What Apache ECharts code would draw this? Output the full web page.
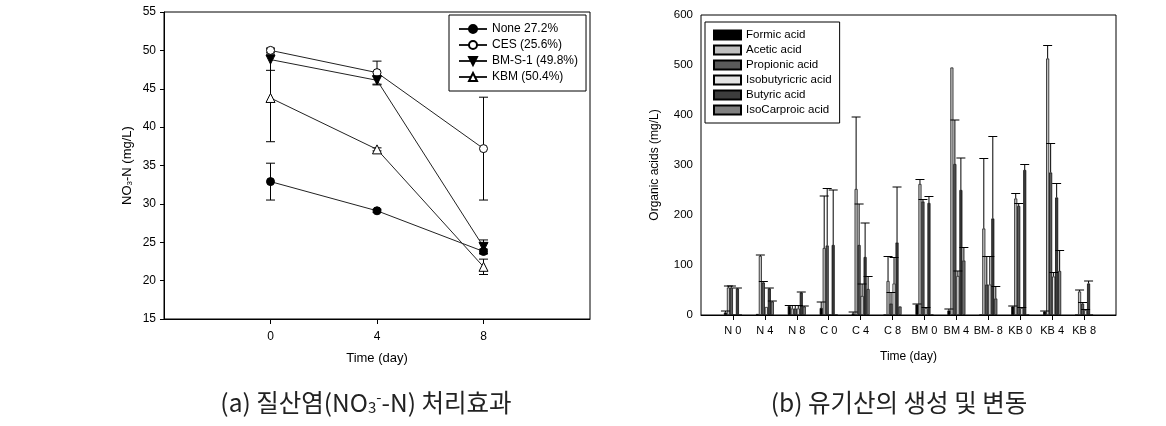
<!DOCTYPE html>
<html><head><meta charset="utf-8">
<script src="https://cdn.jsdelivr.net/npm/echarts@6/dist/echarts.min.js"></script>
<style>html,body{margin:0;padding:0;background:#fff}#c{width:1166px;height:426px}</style>
</head><body><div id="c"></div>
<script>
// ---------- (a) NO3-N data ----------
const days = [0, 4, 8];
const dayTicks = [0, 4, 8];
const namesA = ['None 27.2%', 'CES (25.6%)', 'BM-S-1 (49.8%)', 'KBM (50.4%)'];
const noneVals = [32.9, 29.1, 23.8];
const noneErr  = [2.4, 0.2, 0.3];
const cesVals  = [50.0, 47.1, 37.2];
const cesErr   = [0.3, 1.5, 6.7];
const bmsVals  = [48.8, 46.1, 24.4];
const bmsErr   = [1.4, 0.6, 0.9];
const kbmVals  = [43.8, 37.1, 21.8];
const kbmErr   = [5.7, 0.2, 1.0];

// ---------- (b) organic acids data ----------
const groups = ['N 0', 'N 4', 'N 8', 'C 0', 'C 4', 'C 8', 'BM 0', 'BM 4', 'BM- 8', 'KB 0', 'KB 4', 'KB 8'];
const acidNames = ['Formic acid', 'Acetic acid', 'Propionic acid', 'Isobutyricric acid', 'Butyric acid', 'IsoCarproic acid'];
const formic     = [5, 2, 18, 14, 3, 0, 21, 9, 0, 17, 7, 0];
const formicErr  = [3, 0, 1, 12, 3, 0, 1, 3, 0, 1, 1, 0];
const acetic     = [55, 118, 13, 134, 252, 68, 262, 495, 173, 233, 513, 47];
const aceticErr  = [3, 2, 6, 104, 144, 49, 9, 0, 140, 10, 26, 3];
const propionic  = [55, 65, 13, 139, 140, 23, 227, 302, 61, 218, 285, 23];
const propErr    = [3, 2, 6, 114, 82, 22, 4, 88, 56, 5, 58, 2];
const isobutyric = [0, 16, 13, 0, 38, 63, 14, 78, 61, 14, 77, 10];
const isobutErr  = [0, 0, 6, 0, 24, 52, 1, 10, 56, 1, 8, 1];
const butyric    = [53, 53, 45, 140, 116, 145, 224, 250, 193, 290, 235, 63];
const butErr     = [1, 1, 1, 110, 68, 111, 13, 64, 164, 11, 28, 5];
const isocapr    = [0, 27, 17, 0, 52, 17, 0, 109, 33, 0, 88, 0];
const isocaprErr = [0, 1, 1, 0, 25, 0, 0, 26, 24, 0, 41, 0];

const FONT = 'Arial, "Liberation Sans", sans-serif';
const acidColors = ['#000000', '#c0c0c0', '#5a5a5a', '#e4e4e4', '#3c3c3c', '#808080'];
const acidVals = [formic, acetic, propionic, isobutyric, butyric, isocapr];
const acidErrs = [formicErr, aceticErr, propErr, isobutErr, butErr, isocaprErr];

// category axis with a blank slot at each end (boundaryGap false)
const xCats = [''].concat(groups).concat(['']);
const BAR_W = 3;

const lineDefs = [
  {name: namesA[0], vals: noneVals, err: noneErr, symbol: 'circle', fill: '#000', rot: 0},
  {name: namesA[1], vals: cesVals, err: cesErr, symbol: 'circle', fill: '#fff', rot: 0},
  {name: namesA[2], vals: bmsVals, err: bmsErr, symbol: 'triangle', fill: '#000', rot: 180},
  {name: namesA[3], vals: kbmVals, err: kbmErr, symbol: 'triangle', fill: '#fff', rot: 0}
];

const series = [];
lineDefs.forEach(function (d) {
  series.push({
    type: 'custom', name: d.name + ' err', xAxisIndex: 0, yAxisIndex: 0, z: 2, silent: true,
    data: days.map(function (x, i) { return [x, d.vals[i], d.err[i]]; }),
    renderItem: function (params, api) {
      const x = api.value(0), y = api.value(1), e = api.value(2);
      const t = api.coord([x, y + e]), b = api.coord([x, y - e]);
      const hw = 4.5, st = {stroke: '#000', lineWidth: 1};
      return {type: 'group', children: [
        {type: 'line', shape: {x1: t[0], y1: t[1], x2: b[0], y2: b[1]}, style: st},
        {type: 'line', shape: {x1: t[0] - hw, y1: t[1], x2: t[0] + hw, y2: t[1]}, style: st},
        {type: 'line', shape: {x1: b[0] - hw, y1: b[1], x2: b[0] + hw, y2: b[1]}, style: st}
      ]};
    }
  });
});
lineDefs.forEach(function (d) {
  series.push({
    type: 'line', name: d.name, xAxisIndex: 0, yAxisIndex: 0, z: 3,
    data: days.map(function (x, i) { return [x, d.vals[i]]; }),
    symbol: d.symbol, symbolSize: d.symbol === 'circle' ? 8 : 9, symbolRotate: d.rot,
    showAllSymbol: true,
    lineStyle: {color: '#222', width: 1},
    itemStyle: {color: d.fill, borderColor: '#000', borderWidth: 1},
    emphasis: {disabled: true}
  });
});
acidNames.forEach(function (n, k) {
  series.push({
    type: 'bar', name: n, xAxisIndex: 1, yAxisIndex: 1, barWidth: BAR_W, barGap: '0%',
    data: ['-'].concat(acidVals[k]).concat(['-']),
    itemStyle: {color: acidColors[k], borderColor: '#000', borderWidth: 0.7},
    emphasis: {disabled: true}
  });
});
acidNames.forEach(function (n, k) {
  series.push({
    type: 'custom', name: n + ' err', xAxisIndex: 1, yAxisIndex: 1, z: 3, silent: true,
    data: groups.map(function (g, i) { return [i + 1, acidVals[k][i], acidErrs[k][i]]; }),
    renderItem: function (params, api) {
      const c = api.value(0), v = api.value(1), e = api.value(2);
      if (!(e > 0)) return null;
      const off = (k - 2.5) * BAR_W;
      const b = api.coord([c, v]), t = api.coord([c, v + e]);
      const x = b[0] + off, hw = 4.5, st = {stroke: '#000', lineWidth: 1};
      return {type: 'group', children: [
        {type: 'line', shape: {x1: x, y1: b[1], x2: x, y2: t[1]}, style: st},
        {type: 'line', shape: {x1: x - hw, y1: t[1], x2: x + hw, y2: t[1]}, style: st}
      ]};
    }
  });
});

const axisCommon = {
  axisLine: {onZero: false, lineStyle: {color: '#000', width: 1}},
  axisTick: {lineStyle: {color: '#000'}},
  splitLine: {show: false},
  axisLabel: {color: '#000', fontFamily: FONT, fontSize: 12},
  nameTextStyle: {color: '#000', fontFamily: FONT}
};
function ax(extra) { return echarts.util.merge(echarts.util.clone(axisCommon), extra, true); }

const option = {
  animation: false,
  backgroundColor: '#fff',
  textStyle: {fontFamily: FONT},
  grid: [
    {left: 164, top: 12, width: 426, height: 307, show: true, borderColor: '#000', borderWidth: 1, backgroundColor: 'transparent'},
    {left: 701, top: 15, width: 415, height: 300, show: true, borderColor: '#000', borderWidth: 1, backgroundColor: 'transparent'}
  ],
  xAxis: [
    ax({type: 'value', gridIndex: 0, min: -4, max: 12, interval: 4,
      axisLabel: {customValues: dayTicks, margin: 12},
      axisTick: {customValues: dayTicks, length: 5},
      name: 'Time (day)', nameLocation: 'middle', nameGap: 33, nameTextStyle: {fontSize: 13}}),
    ax({type: 'category', gridIndex: 1, data: xCats, boundaryGap: false,
      axisLabel: {interval: 0, fontSize: 11, margin: 10},
      axisTick: {length: 5, interval: function (i, v) { return v !== ''; }},
      name: 'Time (day)', nameLocation: 'middle', nameGap: 36, nameTextStyle: {fontSize: 12}})
  ],
  yAxis: [
    ax({type: 'value', gridIndex: 0, min: 15, max: 55, interval: 5,
      axisTick: {length: 4}, axisLabel: {margin: 8},
      name: 'NO{sub|3}-N (mg/L)', nameLocation: 'middle', nameGap: 30, nameRotate: 90,
      nameTextStyle: {fontSize: 13, rich: {sub: {fontSize: 8, fontFamily: FONT, color: '#000', padding: [6, 0, 0, 0]}}}}),
    ax({type: 'value', gridIndex: 1, min: 0, max: 600, interval: 100,
      axisTick: {length: 5}, axisLabel: {margin: 8, fontSize: 11.5},
      name: 'Organic acids (mg/L)', nameLocation: 'middle', nameGap: 40, nameRotate: 90,
      nameTextStyle: {fontSize: 12}})
  ],
  legend: [
    {data: namesA, left: 449, top: 15, orient: 'vertical', padding: [8, 8, 8, 9],
      itemWidth: 28, itemHeight: 10, itemGap: 4, borderColor: '#000', borderWidth: 1,
      backgroundColor: '#fff', selectedMode: false,
      textStyle: {fontFamily: FONT, fontSize: 12, color: '#000'}},
    {data: acidNames, left: 705, top: 22, orient: 'vertical', padding: [7, 8, 7, 8],
      itemWidth: 27, itemHeight: 9, itemGap: 3, icon: 'rect', borderColor: '#000', borderWidth: 1,
      backgroundColor: '#fff', selectedMode: false,
      textStyle: {fontFamily: FONT, fontSize: 11.5, color: '#000'}}
  ],
  graphic: [
    {type: 'text', x: 366, y: 403, silent: true,
      style: {text: '(a) 질산염(NO{sub|3}{sup|-}-N) 처리효과', align: 'center', verticalAlign: 'middle',
        textAlign: 'center', textVerticalAlign: 'middle',
        font: '24.5px "Noto Sans CJK KR"', fill: '#222',
        rich: {sub: {font: '15px "Noto Sans CJK KR"', fill: '#222', padding: [9, 0, 0, 0]},
               sup: {font: '15px "Noto Sans CJK KR"', fill: '#222', padding: [0, 0, 12, 0]}}}},
    {type: 'text', x: 899, y: 403, silent: true,
      style: {text: '(b) 유기산의 생성 및 변동', align: 'center', verticalAlign: 'middle',
        textAlign: 'center', textVerticalAlign: 'middle',
        font: '24.5px "Noto Sans CJK KR"', fill: '#222'}}
  ],
  series: series
};

const chart = echarts.init(document.getElementById('c'), null, {renderer: 'canvas'});
chart.setOption(option);
</script>
</body></html>
